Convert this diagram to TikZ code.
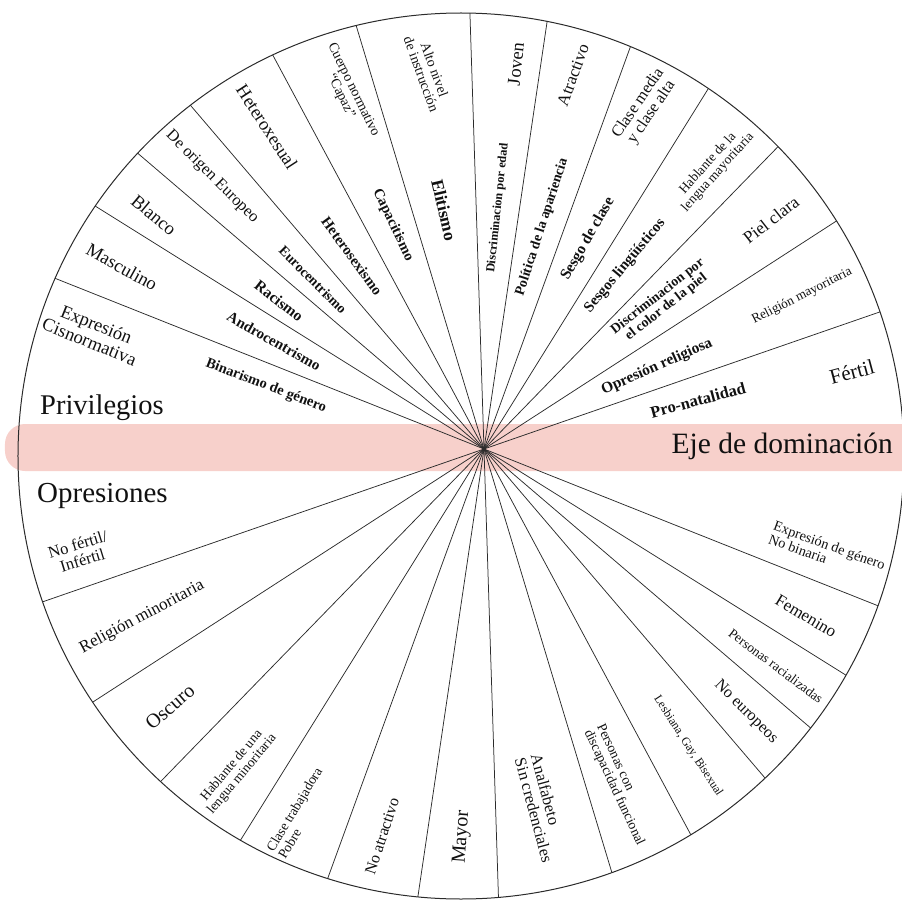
\documentclass[tikz,border=0pt]{standalone}
\usepackage{fontspec}
\setmainfont{Liberation Serif}
\usetikzlibrary{calc}
\definecolor{bandFill}{HTML}{F7D0CB}
\definecolor{rimLine}{HTML}{2B2B2B}
\definecolor{labelText}{HTML}{111111}

\begin{document}
\begin{tikzpicture}[
  x=1pt, y=1pt,
  spoke/.style   ={draw=rimLine, line width=0.75pt},
  rim/.style     ={draw=rimLine, line width=1pt},
  axisband/.style={fill=bandFill, rounded corners=20pt},
  grpLabel/.style={text=labelText, inner sep=0pt, align=center,
                   font=\fontsize{#1}{#1}\selectfont},
  sysLabel/.style={text=labelText, inner sep=0pt, align=center,
                   font=\fontsize{#1}{#1}\selectfont\bfseries},
  sideLabel/.style={text=labelText, inner sep=0pt,
                   font=\fontsize{#1}{#1}\selectfont},
]
\useasboundingbox (-484,-451) rectangle (418,449);

% ----- Axis of domination -----
\fill[axisband] (-479,-22) rectangle (460,25);

% ----- Wheel: spokes through the hub, clipped to the rim -----
\coordinate (hub)  at (0,0);
\coordinate (rimC) at (-23,-7);
\begin{scope}
  \clip (rimC) circle (443);
  \foreach \a in {158.3, 148, 139.5, 130.5, 118.2, 106.8, 91.85,
                  81.6, 70, 58.1, 45.8, 32.9, 19.1}
    \draw[spoke] ($(hub)+(\a:520)$) -- ($(hub)+(\a+180:520)$);
\end{scope}
\draw[rim] (rimC) circle (443);

% ----- Side titles -----
\node[sideLabel=28.5, anchor=base west] (PRIV) at (-444,35) {Privilegios};
\node[sideLabel=29, anchor=base west]   (OPR)  at (-447,-53) {Opresiones};
\node[sideLabel=29.5, anchor=base east] (EJE)  at (409,-4) {Eje de dominación};

% ----- Upper half: privileged groups -----
\node[grpLabel=18.5, rotate=-22] (cis)   at (-391,116) {Expresión\\Cisnormativa};
\node[grpLabel=18.5, rotate=-29] (masc)  at (-362,182) {Masculino};
\node[grpLabel=18.5, rotate=-40] (blan)  at (-330,234) {Blanco};
\node[grpLabel=16.3, rotate=-45] (euro)  at (-272,272) {De origen Europeo};
\node[grpLabel=18.3, rotate=-57] (hetero) at (-217,322) {Heteroxesual};
\node[grpLabel=14, rotate=-64]   (capaz) at (-137,356) {Cuerpo normativo\\“Capaz”};
\node[grpLabel=14, rotate=-70]   (alto)  at (-56,377) {Alto nivel\\de instrucción};
\node[grpLabel=18.5, rotate=84]  (joven) at (32,385) {Joven};
\node[grpLabel=17, rotate=70]    (atrac) at (89,374) {Atractivo};
\node[grpLabel=16.3, rotate=56]  (media) at (161,341) {Clase media\\y clase alta};
\node[grpLabel=13.4, rotate=48]  (habM)  at (229,281) {Hablante de la\\lengua mayoritaria};
\node[grpLabel=17.4, rotate=38]  (piel)  at (287,229) {Piel clara};
\node[grpLabel=13.3, rotate=27]  (relM)  at (318,153) {Religión mayoritaria};
\node[grpLabel=21, rotate=15]    (fert)  at (368,77) {Fértil};

% ----- Upper half: systems of oppression -----
\node[sysLabel=14.5, rotate=-21] (binar) at (-218,63) {Binarismo de género};
\node[sysLabel=15, rotate=-29.5] (andro) at (-210,108) {Androcentrismo};
\node[sysLabel=15.5, rotate=-38] (racis) at (-205,148) {Racismo};
\node[sysLabel=14, rotate=-45]   (euroc) at (-171,169) {Eurocentrismo};
\node[sysLabel=14.8, rotate=-54] (hsex)  at (-132,193) {Heterosexismo};
\node[sysLabel=14.6, rotate=-64.5] (capac) at (-91,224) {Capacitismo};
\node[sysLabel=17.5, rotate=-77] (elit)  at (-40,239) {Elitismo};
\node[sysLabel=12.3, rotate=84]  (edad)  at (14,241) {Discriminacion por edad};
\node[sysLabel=14, rotate=72]    (apar)  at (58,222) {Política de la apariencia};
\node[sysLabel=15.5, rotate=60]  (sesgo) at (104,210) {Sesgo de clase};
\node[sysLabel=15, rotate=50]    (ling)  at (141,183) {Sesgos lingüísticos};
\node[sysLabel=13.8, rotate=38]  (color) at (178,147) {Discriminacion por\\el color de la piel};
\node[sysLabel=15.4, rotate=24]  (relig) at (173,82) {Opresión religiosa};
\node[sysLabel=16.5, rotate=15]  (natal) at (214,49) {Pro-natalidad};

% ----- Lower half: oppressed groups -----
\node[grpLabel=16.5, rotate=17]  (infert) at (-404,-103) {No fértil/\\Infértil};
\node[grpLabel=17, rotate=28]    (relm)   at (-342,-168) {Religión minoritaria};
\node[grpLabel=20, rotate=41]    (oscu)   at (-314,-258) {Oscuro};
\node[grpLabel=13.5, rotate=50]  (habm)   at (-247,-321) {Hablante de una\\lengua minoritaria};
\node[grpLabel=13.7, rotate=59, align=left] (pobre) at (-184,-364) {Clase trabajadora\\Pobre};
\node[grpLabel=16, rotate=72]    (noatr)  at (-102,-387) {No atractivo};
\node[grpLabel=20, rotate=86]    (mayor)  at (-22,-388) {Mayor};
\node[grpLabel=16.4, rotate=-75, align=left] (analf) at (58,-359) {Analfabeto\\Sin credenciales};
\node[grpLabel=13.7, rotate=-65, align=left] (disc)  at (136,-336) {Personas con\\discapacidad funcional};
\node[grpLabel=12, rotate=-57]   (lgb)    at (204,-297) {Lesbiana, Gay, Bisexual};
\node[grpLabel=16.3, rotate=-45] (noeur)  at (262,-263) {No europeos};
\node[grpLabel=13.4, rotate=-37] (racz)   at (292,-217) {Personas racializadas};
\node[grpLabel=17, rotate=-31]   (fem)    at (322,-167) {Femenino};
\node[grpLabel=14.3, rotate=-20, align=left] (nobin) at (343,-103) {Expresión de género\\No binaria};

\end{tikzpicture}
\end{document}
